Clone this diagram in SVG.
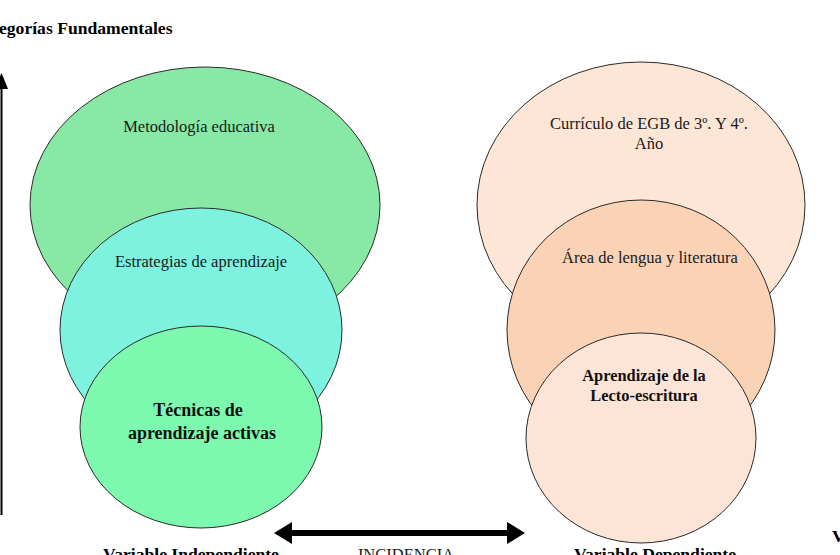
<svg xmlns="http://www.w3.org/2000/svg" width="840" height="555" viewBox="0 0 840 555">
<style>
.e{stroke:#2a2a2a;stroke-width:1}
.t{font-family:"Liberation Serif",serif;font-size:16.5px;fill:#1a1a1a;text-anchor:middle}
.b{font-family:"Liberation Serif",serif;font-size:18px;font-weight:bold;fill:#111;text-anchor:middle}
.b2{font-family:"Liberation Serif",serif;font-size:16.4px;font-weight:bold;fill:#111;text-anchor:middle}
.h{font-family:"Liberation Serif",serif;font-size:17.6px;font-weight:bold;fill:#000}
</style>
<rect width="840" height="555" fill="#fff"/>
<text class="h" x="-1" y="34">egorías Fundamentales</text>
<g id="metodologia"><ellipse class="e" cx="205" cy="205" rx="175" ry="138" fill="#88e9a6"/><text class="t" x="199" y="132">Metodología educativa</text></g>
<g id="estrategias"><ellipse class="e" cx="201" cy="330" rx="141" ry="122" fill="#7df2de"/><text class="t" x="201" y="267">Estrategias de aprendizaje</text></g>
<g id="tecnicas"><ellipse class="e" cx="201" cy="427" rx="121" ry="101" fill="#7cf9ae"/><text class="b" x="198" y="416">Técnicas de</text><text class="b" x="202" y="439">aprendizaje activas</text></g>
<g id="curriculo"><ellipse class="e" cx="641" cy="205" rx="164" ry="143" fill="#fde6d6"/><text class="t" x="649" y="129">Currículo de EGB de 3º. Y 4º.</text><text class="t" x="649" y="149">Año</text></g>
<g id="area"><ellipse class="e" cx="641" cy="330" rx="134" ry="130" fill="#fad2b5"/><text class="t" x="650" y="263">Área de lengua y literatura</text></g>
<g id="aprendizaje"><ellipse class="e" cx="641" cy="438" rx="115" ry="105" fill="#fce4d6"/><text class="b2" x="644" y="381">Aprendizaje de la</text><text class="b2" x="644" y="401">Lecto-escritura</text></g>
<g id="connectors">
<line x1="1.5" y1="86" x2="1.5" y2="515" stroke="#000" stroke-width="2"/>
<polygon points="1.5,73 -6,89 8,89" fill="#000"/>
<line x1="290" y1="533" x2="510" y2="533" stroke="#000" stroke-width="6"/>
<polygon points="274,533 292,522 292,544" fill="#000"/>
<polygon points="525,533 507,522 507,544" fill="#000"/>
</g>
<text class="h" x="832" y="542">V</text>
<text class="h" x="191" y="560" text-anchor="middle">Variable Independiente</text>
<text class="t" x="406" y="560">INCIDENCIA</text>
<text class="h" x="655" y="560" text-anchor="middle">Variable Dependiente</text>
</svg>
